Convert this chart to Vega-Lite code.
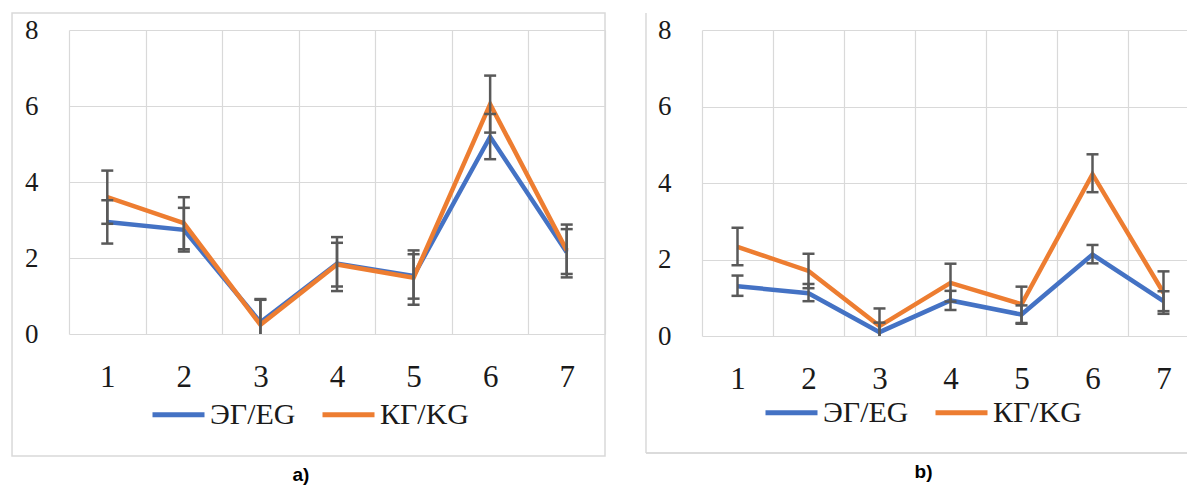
{
  "$schema": "https://vega.github.io/schema/vega-lite/v6.json",
  "padding": {"left": 11, "top": 12, "right": 0, "bottom": 0},
  "background": "white",
  "spacing": 39,
  "config": {
    "view": {"stroke": null},
    "font": "Liberation Serif, serif",
    "title": {"font": "Liberation Sans, Arial, sans-serif", "fontSize": 19, "fontWeight": "bold", "color": "#000000"},
    "axis": {"labelFont": "Liberation Serif, serif", "labelColor": "#1a1a1a", "title": null, "ticks": false, "domain": false, "gridColor": "#d9d9d9", "gridWidth": 1.2},
    "axisY": {"labelFontSize": 27, "labelPadding": 31, "labelFont": "Liberation Serif, serif"},
    "axisX": {"labelFontSize": 31, "labelPadding": 28, "labelAngle": 0, "labelFont": "Liberation Serif, serif"},
    "legend": {
      "orient": "none", "direction": "horizontal", "title": null,
      "symbolType": "stroke", "symbolSize": 2704, "symbolStrokeWidth": 5,
      "labelFont": "Liberation Serif, serif", "labelFontSize": 30, "labelColor": "#1a1a1a",
      "labelOffset": 3, "columnPadding": 16, "padding": 0, "symbolOpacity": 1
    }
  },
  "data": {"values": [
    {"panel": "a", "g": "ЭГ/EG", "x": "1", "v": 2.95, "lo": 2.38, "hi": 3.52},
    {"panel": "a", "g": "ЭГ/EG", "x": "2", "v": 2.74, "lo": 2.17, "hi": 3.32},
    {"panel": "a", "g": "ЭГ/EG", "x": "3", "v": 0.31, "lo": -0.3, "hi": 0.9},
    {"panel": "a", "g": "ЭГ/EG", "x": "4", "v": 1.85, "lo": 1.25, "hi": 2.4},
    {"panel": "a", "g": "ЭГ/EG", "x": "5", "v": 1.53, "lo": 0.93, "hi": 2.1},
    {"panel": "a", "g": "ЭГ/EG", "x": "6", "v": 5.19, "lo": 4.6, "hi": 5.79},
    {"panel": "a", "g": "ЭГ/EG", "x": "7", "v": 2.15, "lo": 1.58, "hi": 2.76},
    {"panel": "a", "g": "КГ/KG", "x": "1", "v": 3.6, "lo": 2.9, "hi": 4.3},
    {"panel": "a", "g": "КГ/KG", "x": "2", "v": 2.92, "lo": 2.23, "hi": 3.6},
    {"panel": "a", "g": "КГ/KG", "x": "3", "v": 0.24, "lo": -0.44, "hi": 0.92},
    {"panel": "a", "g": "КГ/KG", "x": "4", "v": 1.83, "lo": 1.13, "hi": 2.55},
    {"panel": "a", "g": "КГ/KG", "x": "5", "v": 1.48, "lo": 0.77, "hi": 2.2},
    {"panel": "a", "g": "КГ/KG", "x": "6", "v": 6.05, "lo": 5.3, "hi": 6.8},
    {"panel": "a", "g": "КГ/KG", "x": "7", "v": 2.2, "lo": 1.49, "hi": 2.88},
    {"panel": "b", "g": "ЭГ/EG", "x": "1", "v": 1.3, "lo": 1.05, "hi": 1.58},
    {"panel": "b", "g": "ЭГ/EG", "x": "2", "v": 1.12, "lo": 0.91, "hi": 1.36},
    {"panel": "b", "g": "ЭГ/EG", "x": "3", "v": 0.1, "lo": -0.15, "hi": 0.35},
    {"panel": "b", "g": "ЭГ/EG", "x": "4", "v": 0.93, "lo": 0.68, "hi": 1.18},
    {"panel": "b", "g": "ЭГ/EG", "x": "5", "v": 0.56, "lo": 0.32, "hi": 0.8},
    {"panel": "b", "g": "ЭГ/EG", "x": "6", "v": 2.13, "lo": 1.9, "hi": 2.38},
    {"panel": "b", "g": "ЭГ/EG", "x": "7", "v": 0.91, "lo": 0.65, "hi": 1.17},
    {"panel": "b", "g": "КГ/KG", "x": "1", "v": 2.33, "lo": 1.85, "hi": 2.83},
    {"panel": "b", "g": "КГ/KG", "x": "2", "v": 1.7, "lo": 1.25, "hi": 2.15},
    {"panel": "b", "g": "КГ/KG", "x": "3", "v": 0.26, "lo": -0.2, "hi": 0.72},
    {"panel": "b", "g": "КГ/KG", "x": "4", "v": 1.39, "lo": 0.9, "hi": 1.89},
    {"panel": "b", "g": "КГ/KG", "x": "5", "v": 0.83, "lo": 0.34, "hi": 1.29},
    {"panel": "b", "g": "КГ/KG", "x": "6", "v": 4.23, "lo": 3.76, "hi": 4.75},
    {"panel": "b", "g": "КГ/KG", "x": "7", "v": 1.13, "lo": 0.58, "hi": 1.69}
  ]},
  "resolve": {"scale": {"x": "independent", "y": "independent", "color": "independent"}, "legend": {"color": "independent"}},
  "hconcat": [
    {
      "width": 536, "height": 304,
      "title": {"text": "a)", "orient": "bottom", "anchor": "middle", "dx": -36, "offset": 9},
      "layer": [
        {
          "data": {"values": [{"frame": 1}]},
          "mark": {"type": "rect", "fill": "white", "fillOpacity": 0, "stroke": "#d9d9d9", "strokeWidth": 1.5, "clip": false},
          "encoding": {
            "x": {"datum": -0.1063, "type": "quantitative", "scale": {"domain": [0, 1]}, "axis": null},
            "x2": {"datum": 1},
            "y": {"datum": 8.447, "type": "quantitative", "scale": {"domain": [0, 8], "nice": false}, "axis": null},
            "y2": {"datum": -3.21}
          }
        },
        {
          "transform": [{"filter": "datum.panel == 'a'"}],
          "encoding": {
            "x": {"field": "x", "type": "ordinal", "bandPosition": 0.5,
                  "scale": {"type": "band", "paddingInner": 0, "paddingOuter": 0},
                  "axis": {"tickBand": "extent", "grid": true}},
            "y": {"type": "quantitative", "scale": {"domain": [0, 8], "nice": false}}
          },
          "layer": [
            {
              "mark": {"type": "line", "strokeWidth": 4.5, "strokeJoin": "miter"},
              "encoding": {
                "y": {"field": "v", "type": "quantitative", "scale": {"domain": [0, 8], "nice": false},
                      "axis": {"values": [0, 2, 4, 6, 8], "grid": true}},
                "color": {"field": "g", "type": "nominal", "scale": {"domain": ["ЭГ/EG", "КГ/KG"], "range": ["#4472C4", "#ED7D31"]},
                          "legend": {"legendX": 81, "legendY": 356}}
              }
            },
            {
              "mark": {"type": "rule", "color": "#595959", "strokeWidth": 2.5, "clip": true},
              "encoding": {"y": {"field": "lo", "type": "quantitative", "axis": {"values": [0, 2, 4, 6, 8], "grid": true}}, "y2": {"field": "hi"}}
            },
            {
              "mark": {"type": "tick", "color": "#595959", "thickness": 2.5, "size": 12, "orient": "horizontal", "clip": true, "opacity": 1},
              "encoding": {"y": {"field": "lo", "type": "quantitative", "axis": {"values": [0, 2, 4, 6, 8], "grid": true}}}
            },
            {
              "mark": {"type": "tick", "color": "#595959", "thickness": 2.5, "size": 12, "orient": "horizontal", "clip": true, "opacity": 1},
              "encoding": {"y": {"field": "hi", "type": "quantitative", "axis": {"values": [0, 2, 4, 6, 8], "grid": true}}}
            }
          ]
        }
      ],
      "resolve": {"scale": {"x": "independent"}, "axis": {"x": "independent", "y": "independent"}}
    },
    {
      "width": 497, "height": 306,
      "title": {"text": "b)", "orient": "bottom", "anchor": "middle", "dx": -27, "offset": 9},
      "layer": [
        {
          "data": {"values": [{"frame": 1}]},
          "mark": {"type": "rule", "stroke": "#d9d9d9", "strokeWidth": 1.5, "clip": false},
          "encoding": {
            "x": {"datum": -0.1127, "type": "quantitative", "scale": {"domain": [0, 1]}, "axis": null},
            "y": {"datum": 8.444, "type": "quantitative", "scale": {"domain": [0, 8], "nice": false}, "axis": null},
            "y2": {"datum": -3.06}
          }
        },
        {
          "data": {"values": [{"frame": 1}, {"frame": 2}]},
          "mark": {"type": "rule", "stroke": "#d9d9d9", "strokeWidth": 1.5, "clip": false},
          "encoding": {
            "x": {"datum": -0.1127, "type": "quantitative", "scale": {"domain": [0, 1]}, "axis": null},
            "x2": {"datum": 1.1},
            "y": {"condition": {"test": "datum.frame == 1", "datum": 8.444}, "datum": -3.06, "type": "quantitative", "scale": {"domain": [0, 8], "nice": false}, "axis": null}
          }
        },
        {
          "transform": [{"filter": "datum.panel == 'b'"}],
          "encoding": {
            "x": {"field": "x", "type": "ordinal", "bandPosition": 0.5,
                  "scale": {"type": "band", "paddingInner": 0, "paddingOuter": 0},
                  "axis": {"tickBand": "extent", "grid": true}},
            "y": {"type": "quantitative", "scale": {"domain": [0, 8], "nice": false}}
          },
          "layer": [
            {
              "mark": {"type": "line", "strokeWidth": 4.5, "strokeJoin": "miter"},
              "encoding": {
                "y": {"field": "v", "type": "quantitative", "scale": {"domain": [0, 8], "nice": false},
                      "axis": {"values": [0, 2, 4, 6, 8], "grid": true}},
                "color": {"field": "g", "type": "nominal", "scale": {"domain": ["ЭГ/EG", "КГ/KG"], "range": ["#4472C4", "#ED7D31"]},
                          "legend": {"legendX": 61, "legendY": 354}}
              }
            },
            {
              "mark": {"type": "rule", "color": "#595959", "strokeWidth": 2.5, "clip": true},
              "encoding": {"y": {"field": "lo", "type": "quantitative", "axis": {"values": [0, 2, 4, 6, 8], "grid": true}}, "y2": {"field": "hi"}}
            },
            {
              "mark": {"type": "tick", "color": "#595959", "thickness": 2.5, "size": 12, "orient": "horizontal", "clip": true, "opacity": 1},
              "encoding": {"y": {"field": "lo", "type": "quantitative", "axis": {"values": [0, 2, 4, 6, 8], "grid": true}}}
            },
            {
              "mark": {"type": "tick", "color": "#595959", "thickness": 2.5, "size": 12, "orient": "horizontal", "clip": true, "opacity": 1},
              "encoding": {"y": {"field": "hi", "type": "quantitative", "axis": {"values": [0, 2, 4, 6, 8], "grid": true}}}
            }
          ]
        }
      ],
      "resolve": {"scale": {"x": "independent"}, "axis": {"x": "independent", "y": "independent"}}
    }
  ]
}
